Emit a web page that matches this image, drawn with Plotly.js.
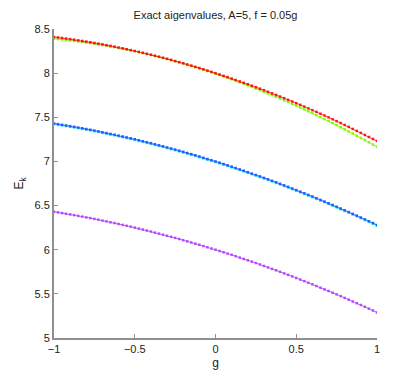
<!DOCTYPE html>
<html>
<head>
<meta charset="utf-8">
<script src="https://cdn.plot.ly/plotly-3.0.1.min.js"></script>
<style>html,body{margin:0;padding:0;background:#fff;}#chart{width:415px;height:381px;}</style>
</head>
<body>
<div id="chart"></div>
<script>
const g = [-1,-0.975,-0.95,-0.925,-0.9,-0.875,-0.85,-0.825,-0.8,-0.775,-0.75,-0.725,-0.7,-0.675,-0.65,-0.625,-0.6,-0.575,-0.55,-0.525,-0.5,-0.475,-0.45,-0.425,-0.4,-0.375,-0.35,-0.325,-0.3,-0.275,-0.25,-0.225,-0.2,-0.175,-0.15,-0.125,-0.1,-0.075,-0.05,-0.025,0,0.025,0.05,0.075,0.1,0.125,0.15,0.175,0.2,0.225,0.25,0.275,0.3,0.325,0.35,0.375,0.4,0.425,0.45,0.475,0.5,0.525,0.55,0.575,0.6,0.625,0.65,0.675,0.7,0.725,0.75,0.775,0.8,0.825,0.85,0.875,0.9,0.925,0.95,0.975,1];

const eRed = [8.410,8.404,8.398,8.392,8.386,8.379,8.372,8.365,8.358,8.350,8.342,8.334,8.326,8.317,8.309,8.300,8.290,8.281,8.271,8.261,8.251,8.241,8.230,8.219,8.208,8.197,8.186,8.174,8.162,8.150,8.137,8.125,8.112,8.098,8.085,8.071,8.058,8.044,8.029,8.015,
8.000,
7.985,7.970,7.955,7.939,7.923,7.907,7.891,7.875,7.858,7.841,7.824,7.807,7.789,7.771,7.753,7.735,7.717,7.698,7.679,7.660,7.641,7.621,7.601,7.581,7.561,7.540,7.520,7.499,7.478,7.456,7.435,7.413,7.391,7.368,7.346,7.323,7.300,7.277,7.254,7.230];

const eGreen = [8.390,8.386,8.381,8.376,8.371,8.365,8.359,8.353,8.347,8.340,8.333,8.326,8.318,8.310,8.302,8.294,8.285,8.276,8.267,8.258,8.248,8.238,8.228,8.217,8.206,8.195,8.184,8.172,8.160,8.148,8.135,8.122,8.109,8.096,8.082,8.068,8.054,8.039,8.024,8.009,
7.994,
7.978,7.962,7.946,7.930,7.913,7.896,7.879,7.862,7.844,7.826,7.808,7.789,7.770,7.751,7.732,7.713,7.693,7.673,7.652,7.632,7.611,7.590,7.568,7.547,7.525,7.503,7.480,7.458,7.435,7.411,7.388,7.364,7.340,7.316,7.291,7.267,7.242,7.216,7.191,7.165];

const eBlue = [7.430,7.423,7.415,7.408,7.400,7.392,7.384,7.376,7.367,7.359,7.350,7.341,7.331,7.322,7.312,7.303,7.293,7.283,7.272,7.262,7.251,7.240,7.229,7.218,7.207,7.195,7.183,7.172,7.159,7.147,7.135,7.122,7.109,7.096,7.083,7.070,7.056,7.042,7.028,7.014,
7.000,
6.986,6.971,6.956,6.941,6.926,6.910,6.895,6.879,6.863,6.847,6.831,6.814,6.798,6.781,6.764,6.747,6.729,6.712,6.694,6.676,6.658,6.640,6.621,6.603,6.584,6.565,6.546,6.526,6.507,6.487,6.467,6.447,6.427,6.406,6.386,6.365,6.344,6.323,6.302,6.280];

const eCyan = [7.422,7.415,7.407,7.400,7.392,7.384,7.376,7.368,7.359,7.351,7.342,7.333,7.323,7.314,7.304,7.295,7.285,7.275,7.264,7.254,7.243,7.232,7.221,7.210,7.199,7.187,7.175,7.164,7.151,7.139,7.127,7.114,7.101,7.088,7.075,7.062,7.048,7.034,7.020,7.006,
6.992,
6.978,6.963,6.948,6.933,6.918,6.902,6.887,6.871,6.855,6.839,6.823,6.806,6.790,6.773,6.756,6.739,6.721,6.704,6.686,6.668,6.650,6.632,6.613,6.595,6.576,6.557,6.538,6.518,6.499,6.479,6.459,6.439,6.419,6.398,6.378,6.357,6.336,6.315,6.294,6.272];

const ePurple = [6.430,6.423,6.415,6.407,6.400,6.392,6.383,6.375,6.366,6.358,6.349,6.340,6.330,6.321,6.311,6.302,6.292,6.281,6.271,6.261,6.250,6.239,6.228,6.217,6.206,6.194,6.182,6.170,6.158,6.146,6.134,6.121,6.108,6.095,6.082,6.069,6.056,6.042,6.028,6.014,
6.000,
5.986,5.971,5.956,5.942,5.927,5.911,5.896,5.880,5.865,5.849,5.833,5.816,5.800,5.783,5.767,5.750,5.732,5.715,5.698,5.680,5.662,5.644,5.626,5.608,5.589,5.570,5.551,5.532,5.513,5.494,5.474,5.454,5.434,5.414,5.394,5.374,5.353,5.332,5.311,5.290];

const xTicks = [-1, -0.5, 0, 0.5, 1];
const xTickText = ['\u22121', '\u22120.5', '0', '0.5', '1'];
const yTicks = [5, 5.5, 6, 6.5, 7, 7.5, 8, 8.5];
const yTickText = ['5', '5.5', '6', '6.5', '7', '7.5', '8', '8.5'];

function tr(y, color) {
  return {
    x: g, y: y, type: 'scatter', mode: 'lines+markers',
    line: {color: color, width: 0.8},
    marker: {color: color, size: 2.5, symbol: 'square', opacity: 0.9},
    hoverinfo: 'skip', showlegend: false
  };
}

const data = [
  tr(eGreen, '#7cf700'),
  tr(eRed, '#ff0a0a'),
  tr(eCyan, '#22e8ee'),
  tr(eBlue, '#1e55ff'),
  tr(ePurple, '#b33cff')
];

const axisCommon = {
  showgrid: false, zeroline: false, showline: true,
  linecolor: '#8f8f8f', linewidth: 2,
  ticks: 'inside', ticklen: 4, tickcolor: '#8f8f8f', tickwidth: 1,
  tickfont: {family: 'Liberation Sans, Arial, sans-serif', size: 11, color: '#222'},
  mirror: false
};

const layout = {
  width: 415, height: 381,
  margin: {l: 54, r: 38, t: 29, b: 43},
  paper_bgcolor: '#fff', plot_bgcolor: '#fff',
  title: {
    text: 'Exact aigenvalues, A=5, f = 0.05g',
    font: {family: 'Liberation Sans, Arial, sans-serif', size: 11, color: '#222'},
    x: 0.5, xref: 'paper', y: 1 - 15/381, yref: 'container', yanchor: 'middle', xanchor: 'center'
  },
  xaxis: Object.assign({}, axisCommon, {
    range: [-1, 1], tickvals: xTicks, ticktext: xTickText,
    title: {text: 'g', font: {family: 'Liberation Sans, Arial, sans-serif', size: 12, color: '#222'}, standoff: 4}
  }),
  yaxis: Object.assign({}, axisCommon, {
    range: [5, 8.5], tickvals: yTicks, ticktext: yTickText,
    title: {text: 'E<sub>k</sub>', font: {family: 'Liberation Sans, Arial, sans-serif', size: 12, color: '#222'}, standoff: 8}
  })
};

Plotly.newPlot('chart', data, layout, {staticPlot: true, displayModeBar: false});
</script>
</body>
</html>
